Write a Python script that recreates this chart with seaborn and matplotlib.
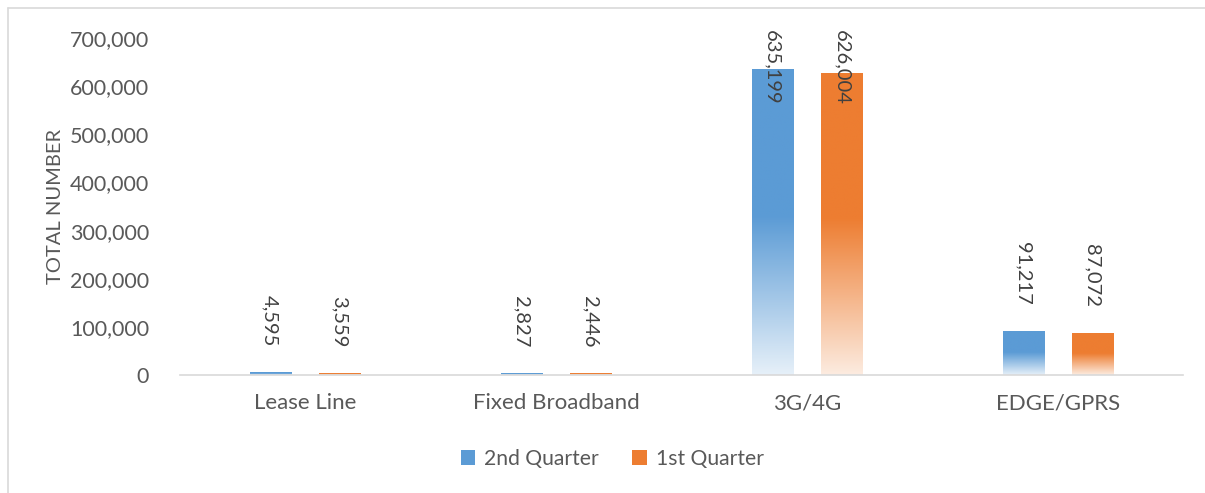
import numpy as np
import pandas as pd
import matplotlib
matplotlib.use("Agg")
import matplotlib.pyplot as plt
import seaborn as sns
from matplotlib.patches import Patch
from matplotlib.lines import Line2D
from matplotlib.colors import to_rgb

categories = ["Lease Line", "Fixed Broadband", "3G/4G", "EDGE/GPRS"]
q2_values = [4595, 2827, 635199, 91217]
q1_values = [3559, 2446, 626004, 87072]
series_names = ["2nd Quarter", "1st Quarter"]
colors = ["#5B9BD5", "#ED7D31"]

df = pd.DataFrame({
    "category": categories * 2,
    "value": q2_values + q1_values,
    "quarter": [series_names[0]] * 4 + [series_names[1]] * 4,
})

sns.set_style("white")
plt.rcParams["font.family"] = ["Lato", "DejaVu Sans"]
text_gray = "#595959"

fig = plt.figure(figsize=(12.05, 4.93), dpi=100)
ax = fig.add_axes([0.149, 0.239, 0.833, 0.684])

sns.barplot(data=df, x="category", y="value", hue="quarter", hue_order=series_names,
            palette=colors, saturation=1, width=0.552, gap=0.406, ax=ax, legend=False)

# replace flat fill with a fade towards white in the lower half of each bar
ymax = 700000
for patch in list(ax.patches):
    x0, w, h = patch.get_x(), patch.get_width(), patch.get_height()
    if h <= 0:
        continue
    base = np.array(to_rgb(patch.get_facecolor()))
    t = np.linspace(0, 1, 200)
    a = np.clip(0.15 + 0.85 * t / 0.52, 0, 1)
    img = (1 - a)[:, None] * np.ones(3) + a[:, None] * base
    img = img[:, None, :]
    ax.imshow(img, extent=[x0, x0 + w, 0, h], origin="lower", aspect="auto",
              zorder=patch.get_zorder())
    patch.set_visible(False)

# data labels
for i, vals in enumerate([q2_values, q1_values]):
    for j, v in enumerate(vals):
        xc = j + (-0.138 if i == 0 else 0.138)
        label = f"{v:,}"
        if v > 0.8 * ymax:
            ax.annotate(label, xy=(xc, ymax), xytext=(0, 6), textcoords="offset points",
                        rotation=270, ha="center", va="top", fontsize=14.5,
                        color="#404040", annotation_clip=False)
        else:
            ax.annotate(label, xy=(xc, v), xytext=(0, 19), textcoords="offset points",
                        rotation=270, ha="center", va="bottom", fontsize=14.5,
                        color="#404040")

ax.set_xlim(-0.5, 3.5)
ax.set_ylim(0, ymax)
ax.set_yticks(range(0, 700001, 100000))
ax.set_yticklabels([f"{t:,}" for t in range(0, 700001, 100000)])
ax.tick_params(axis="y", labelsize=15.5, labelcolor=text_gray, length=0, pad=22)
ax.tick_params(axis="x", labelsize=16, labelcolor=text_gray, length=0, pad=13)
ax.set_xlabel("")
ax.set_ylabel("TOTAL NUMBER", fontsize=14.5, color=text_gray, labelpad=4)
for s in ["top", "right", "left"]:
    ax.spines[s].set_visible(False)
ax.spines["bottom"].set_color("#D9D9D9")
ax.spines["bottom"].set_linewidth(1.2)

handles = [Patch(facecolor=c, edgecolor="none") for c in colors]
fig.legend(handles, series_names, loc="center", bbox_to_anchor=(0.508, 0.069),
           ncol=2, frameon=False, fontsize=15.2, labelcolor=text_gray,
           handlelength=0.7, handleheight=0.7, handletextpad=0.4, columnspacing=1.6)

# outer chart border (left and top visible)
fig.add_artist(Line2D([8 / 1205, 8 / 1205], [0, 1 - 8 / 493], color="#D9D9D9", lw=1.2))
fig.add_artist(Line2D([8 / 1205, 1], [1 - 8 / 493, 1 - 8 / 493], color="#D9D9D9", lw=1.2))

fig.savefig("out.png", dpi=100)
